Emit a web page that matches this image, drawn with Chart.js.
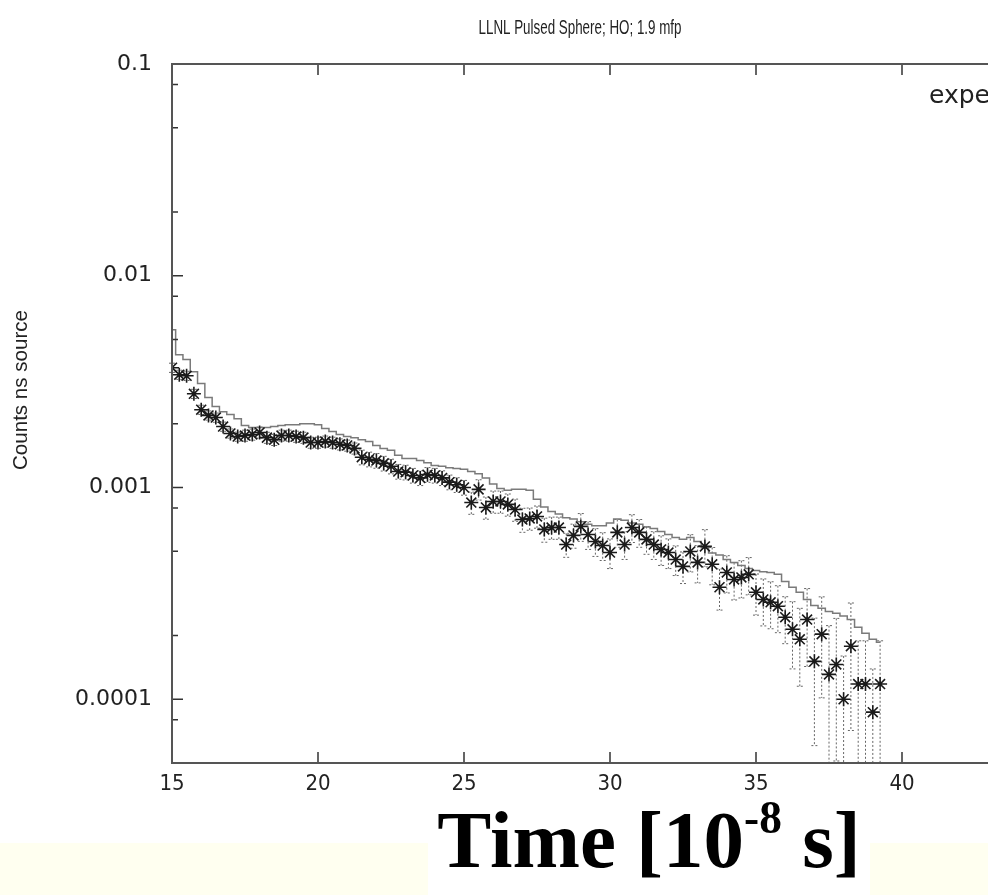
<!DOCTYPE html>
<html>
<head>
<meta charset="utf-8">
<script src="https://cdn.jsdelivr.net/npm/chart.js@4"></script>
<style>
  html, body { margin: 0; padding: 0; width: 988px; height: 895px; overflow: hidden; background: #fff; }
  #wrap { position: absolute; left: 0; top: 0; width: 1160px; height: 895px; }
  #band { position: absolute; left: 0; top: 843px; width: 988px; height: 52px; background: #fffff0; }
  #xtitle { position: absolute; left: 428px; top: 795px; width: 442px; height: 100px; background: #fff;
            font: bold 81px "Liberation Serif", "Times New Roman", serif; line-height: 90px; text-align: center; color: #000; white-space: nowrap; }
  #xtitle sup { font-size: 0.56em; vertical-align: 0.74em; line-height: 0; }
  #legend { position: absolute; left: 929px; top: 80px; font: 25px "DejaVu Sans", sans-serif; color: #222; white-space: nowrap; }
</style>
</head>
<body>
<div id="wrap"><canvas id="chart" width="1160" height="895"></canvas></div>
<div id="legend">experiment</div>
<div id="band"></div>
<div id="xtitle">Time [10<sup>-8</sup> s]</div>
<script>
// time bins (10^-8 s)
const times = [
  15, 15.25, 15.5, 15.75, 16, 16.25, 16.5, 16.75, 17, 17.25, 17.5, 17.75, 18, 18.25, 18.5, 18.75, 19, 19.25, 19.5, 19.75,
  20, 20.25, 20.5, 20.75, 21, 21.25, 21.5, 21.75, 22, 22.25, 22.5, 22.75, 23, 23.25, 23.5, 23.75, 24, 24.25, 24.5, 24.75,
  25, 25.25, 25.5, 25.75, 26, 26.25, 26.5, 26.75, 27, 27.25, 27.5, 27.75, 28, 28.25, 28.5, 28.75, 29, 29.25, 29.5, 29.75,
  30, 30.25, 30.5, 30.75, 31, 31.25, 31.5, 31.75, 32, 32.25, 32.5, 32.75, 33, 33.25, 33.5, 33.75, 34, 34.25, 34.5, 34.75,
  35, 35.25, 35.5, 35.75, 36, 36.25, 36.5, 36.75, 37, 37.25, 37.5, 37.75, 38, 38.25, 38.5, 38.75, 39, 39.25
];

// calculation (step histogram)
const calcCounts = [
  0.00556, 0.00424, 0.00402, 0.00352, 0.00310, 0.00266, 0.00241, 0.00228, 0.00221, 0.00211,
  0.00196, 0.00192, 0.00192, 0.00192, 0.00194, 0.00196, 0.00198, 0.00198, 0.00200, 0.00200,
  0.00198, 0.00190, 0.00184, 0.00178, 0.00174, 0.00172, 0.00168, 0.00165, 0.00158, 0.00153,
  0.00150, 0.00142, 0.00137, 0.00137, 0.00134, 0.00131, 0.00127, 0.00126, 0.00124, 0.00123,
  0.00122, 0.00119, 0.00116, 0.00111, 0.00104, 0.00099, 0.00097, 0.00098, 0.00098, 0.00097,
  0.00088, 0.00081, 0.00077, 0.00075, 0.00072, 0.00071, 0.00069, 0.00067, 0.00066, 0.00066,
  0.00068, 0.00071, 0.00070, 0.00068, 0.00067, 0.00065, 0.00064, 0.00062, 0.00060, 0.00058,
  0.00057, 0.00058, 0.000556, 0.00052, 0.00049, 0.00048, 0.000457, 0.000442, 0.000428, 0.000415,
  0.000406, 0.00040, 0.000397, 0.000389, 0.00036, 0.000338, 0.00032, 0.000296, 0.000277, 0.000269,
  0.00026, 0.000255, 0.000247, 0.000238, 0.000219, 0.000205, 0.000192, 0.000186
];

// experiment
const expCounts = [
  0.00368, 0.00341, 0.00337, 0.00277, 0.00233, 0.00219, 0.00214, 0.00194, 0.00180, 0.00174,
  0.00176, 0.00178, 0.00182, 0.00172, 0.00168, 0.00176, 0.00176, 0.00174, 0.00172, 0.00163,
  0.00163, 0.00165, 0.00163, 0.00160, 0.00158, 0.00153, 0.00139, 0.00136, 0.00134, 0.00130,
  0.00126, 0.00119, 0.00118, 0.00114, 0.00111, 0.00115, 0.00114, 0.00111, 0.00106, 0.00103,
  0.00100, 0.000849, 0.00098, 0.000805, 0.000859, 0.000859, 0.000832, 0.000787, 0.000706, 0.000714,
  0.00073, 0.000634, 0.000647, 0.000647, 0.000538, 0.000594, 0.000655, 0.0006, 0.000556, 0.000532,
  0.000493, 0.000614, 0.000538, 0.000647, 0.000614, 0.000569, 0.000538, 0.00051, 0.000493, 0.000457,
  0.000424, 0.000499, 0.000443, 0.000527, 0.000434, 0.000338, 0.000397, 0.000368, 0.000376, 0.000389,
  0.00032, 0.000296, 0.000287, 0.000275, 0.000244, 0.000214, 0.000192, 0.000238, 0.000151, 0.000203,
  0.000131, 0.000146, 0.0001, 0.000178, 0.000118, 0.000118, 0.0000869, 0.000118
];

// relative error of experiment points
const expErr = [
  0.05, 0.05, 0.05, 0.05, 0.05, 0.05, 0.05, 0.05, 0.05, 0.05,
  0.06, 0.06, 0.06, 0.06, 0.06, 0.06, 0.06, 0.06, 0.06, 0.06,
  0.06, 0.06, 0.06, 0.06, 0.06, 0.06, 0.08, 0.08, 0.08, 0.08,
  0.08, 0.08, 0.08, 0.08, 0.08, 0.08, 0.08, 0.08, 0.08, 0.08,
  0.08, 0.12, 0.11, 0.12, 0.12, 0.12, 0.12, 0.12, 0.13, 0.12,
  0.12, 0.13, 0.12, 0.12, 0.13, 0.13, 0.15, 0.15, 0.15, 0.15,
  0.16, 0.15, 0.15, 0.15, 0.15, 0.15, 0.15, 0.16, 0.16, 0.16,
  0.17, 0.2, 0.2, 0.2, 0.2, 0.22, 0.2, 0.2, 0.2, 0.2,
  0.22, 0.25, 0.25, 0.25, 0.25, 0.35, 0.4, 0.4, 0.6, 0.5,
  0.7, 0.65, 0.6, 0.6, 0.6, 0.6, 0.6, 0.6
];

const xTicks = [15, 20, 25, 30, 35, 40, 45];
const yMajor = [0.1, 0.01, 0.001, 0.0001];
const yMinor = [0.08, 0.05, 0.02, 0.008, 0.005, 0.002, 0.0008, 0.0005, 0.0002, 0.00008];
const chartTitle = 'LLNL Pulsed Sphere; HO; 1.9 mfp';
const yTitle = 'Counts ns source';

const narrow = "'Liberation Sans Narrow', 'DejaVu Sans Condensed', 'Liberation Sans', sans-serif";

// inward ticks, frame, error bars, titles
const framePlugin = {
  id: 'frame',
  beforeDatasetsDraw(chart) {
    const { ctx, chartArea: a, scales: { x, y } } = chart;
    ctx.save();
    ctx.strokeStyle = '#666';
    ctx.lineWidth = 1;
    ctx.setLineDash([2, 2]);
    expCounts.forEach((v, i) => {
      const px = x.getPixelForValue(times[i]);
      const hi = y.getPixelForValue(v * (1 + expErr[i]));
      const loV = v * (1 - expErr[i]);
      const lo = loV > y.min ? y.getPixelForValue(loV) : a.bottom;
      ctx.beginPath();
      ctx.moveTo(px, hi); ctx.lineTo(px, lo);
      ctx.moveTo(px - 3, hi); ctx.lineTo(px + 3, hi);
      ctx.moveTo(px - 3, lo); ctx.lineTo(px + 3, lo);
      ctx.stroke();
    });
    ctx.restore();
  },
  afterDraw(chart) {
    const { ctx, chartArea: a, scales: { x, y } } = chart;
    ctx.save();
    ctx.strokeStyle = '#333';
    ctx.lineWidth = 1.5;
    ctx.beginPath();
    yMajor.forEach(v => { const py = y.getPixelForValue(v); ctx.moveTo(a.left, py); ctx.lineTo(a.left + 11, py); });
    yMinor.forEach(v => { const py = y.getPixelForValue(v); ctx.moveTo(a.left, py); ctx.lineTo(a.left + 6, py); });
    xTicks.forEach(t => {
      const px = x.getPixelForValue(t);
      ctx.moveTo(px, a.top); ctx.lineTo(px, a.top + 11);
      ctx.moveTo(px, a.bottom); ctx.lineTo(px, a.bottom - 11);
    });
    ctx.stroke();
    ctx.strokeStyle = '#555';
    ctx.lineWidth = 2;
    ctx.strokeRect(a.left, a.top, a.right - a.left, a.bottom - a.top);
    ctx.restore();

    // chart title, narrow face
    ctx.save();
    ctx.fillStyle = '#222';
    ctx.font = "21px 'Liberation Sans', sans-serif";
    ctx.textAlign = 'center';
    ctx.textBaseline = 'middle';
    const w = ctx.measureText(chartTitle).width;
    ctx.translate(580, 28);
    ctx.scale(203 / w, 1);
    ctx.fillText(chartTitle, 0, 0);
    ctx.restore();

    // y axis title
    ctx.save();
    ctx.translate(21, 390);
    ctx.rotate(-Math.PI / 2);
    ctx.fillStyle = '#222';
    ctx.font = "21px 'Liberation Sans', sans-serif";
    ctx.textAlign = 'center';
    ctx.textBaseline = 'middle';
    const wy = ctx.measureText(yTitle).width;
    ctx.scale(160 / wy, 1);
    ctx.fillText(yTitle, 0, 0);
    ctx.restore();
  }
};

new Chart(document.getElementById('chart'), {
  type: 'line',
  data: {
    datasets: [
      {
        label: 'experiment',
        data: times.map((t, i) => ({ x: t, y: expCounts[i] })),
        showLine: false,
        pointStyle: 'star',
        pointRadius: 7,
        borderColor: '#1a1a1a',
        borderWidth: 1.6,
        backgroundColor: '#1a1a1a'
      },
      {
        label: 'calculation',
        data: times.map((t, i) => ({ x: t, y: calcCounts[i] })),
        stepped: 'middle',
        borderColor: '#7a7a7a',
        borderWidth: 1.5,
        pointRadius: 0,
        fill: false
      }
    ]
  },
  options: {
    responsive: false,
    animation: false,
    layout: { padding: { left: 0, right: 112, top: 64, bottom: 0 } },
    scales: {
      x: {
        type: 'linear',
        min: 15,
        max: 45,
        afterFit(s) { s.height = 132; },
        afterBuildTicks(s) { s.ticks = xTicks.map(v => ({ value: v })); },
        grid: { display: false, drawTicks: false },
        border: { display: false },
        ticks: { padding: 8, color: '#222', font: { family: narrow, size: 22 } }
      },
      y: {
        type: 'logarithmic',
        min: 0.00005,
        max: 0.1,
        afterFit(s) { s.width = 172; },
        afterBuildTicks(s) { s.ticks = yMajor.concat(yMinor).map(v => ({ value: v })); },
        grid: { display: false, drawTicks: false },
        border: { display: false },
        ticks: {
          autoSkip: false,
          padding: 20,
          color: '#222',
          font: { family: "'DejaVu Sans', sans-serif", size: 22 },
          callback: v => yMajor.includes(v) ? String(v) : ''
        }
      }
    },
    plugins: {
      legend: { display: false },
      tooltip: { enabled: false },
      title: { display: false }
    }
  },
  plugins: [framePlugin]
});
</script>
</body>
</html>
